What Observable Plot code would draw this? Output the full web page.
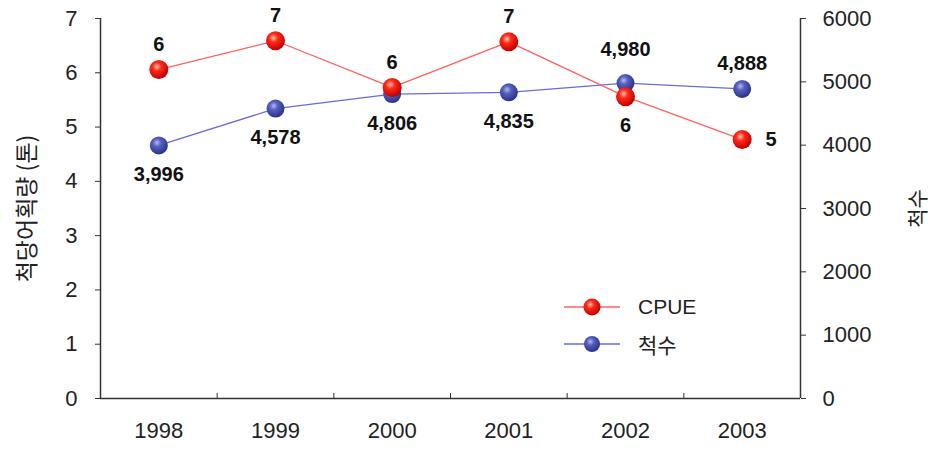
<!DOCTYPE html>
<html>
<head>
<meta charset="utf-8">
<script src="https://cdn.jsdelivr.net/npm/d3@7"></script>
<script src="https://cdn.jsdelivr.net/npm/@observablehq/plot@0.6"></script>
<style>
  body { margin: 0; background: #fff; }
  #wrap { position: relative; width: 931px; height: 449px; overflow: hidden; font-family: "Liberation Sans", Arial, "Noto Sans CJK KR", sans-serif; }
  #legend { position: absolute; left: 562px; top: 288px; font-size: 21px; color: #222; }
  #legend .row { display: flex; align-items: center; height: 37px; }
  #legend svg { margin-right: 16px; }
</style>
</head>
<body>
<div id="wrap"><div id="chart"></div>
<div id="legend">
  <div class="row"><svg width="60" height="24"><line x1="2" x2="58" y1="12" y2="12" stroke="#ff6060" stroke-width="1.3"/><circle cx="30" cy="12" r="8.5" fill="url(#gRedL)"/></svg><span>CPUE</span></div>
  <div class="row"><svg width="60" height="24"><line x1="2" x2="58" y1="12" y2="12" stroke="#6a6ae0" stroke-width="1.3"/><circle cx="30" cy="12" r="8" fill="url(#gBlueL)"/></svg><span style="font-family:'Noto Sans CJK KR'">척수</span></div>
</div>
</div>
<svg width="0" height="0" style="position:absolute">
  <defs>
    <radialGradient id="gRedL" cx="0.4" cy="0.35" r="0.65">
      <stop offset="0" stop-color="#ffc0a8"/><stop offset="0.35" stop-color="#ff2a1a"/><stop offset="1" stop-color="#c00000"/>
    </radialGradient>
    <radialGradient id="gBlueL" cx="0.4" cy="0.35" r="0.65">
      <stop offset="0" stop-color="#b8b8ee"/><stop offset="0.35" stop-color="#5560c0"/><stop offset="1" stop-color="#2a3288"/>
    </radialGradient>
  </defs>
</svg>
<script>
const years = [1998, 1999, 2000, 2001, 2002, 2003];
const cpue = [6.06, 6.59, 5.73, 6.57, 5.56, 4.77];
const vessels = [3996, 4578, 4806, 4835, 4980, 4888];
const leftTicks = [0, 1, 2, 3, 4, 5, 6, 7];
const rightTicks = [0, 1000, 2000, 3000, 4000, 5000, 6000];

const yMax = 7, y2Max = 6000;
const toY = v => v * yMax / y2Max;

const rows = years.map((year, i) => ({year, cpue: cpue[i], vessels: vessels[i], vy: toY(vessels[i]), i}));
const cpueLabel = d => String(Math.round(d.cpue));
const vesLabel = d => d3.format(",")(d.vessels);
const font = "Liberation Sans, Arial, sans-serif";
const lab = {fontSize: 20, fontWeight: "bold", fill: "#111"};

const chart = Plot.plot({
  width: 931,
  height: 449,
  marginLeft: 100,
  marginRight: 131,
  marginTop: 18,
  marginBottom: 51,
  style: {fontFamily: font, background: "#fff", color: "#222"},
  x: {domain: [1997.5, 2003.5]},
  y: {domain: [0, yMax]},
  marks: [
    Plot.ruleX([1997.5], {stroke: "#333", strokeWidth: 1.5}),
    Plot.ruleX([2003.5], {stroke: "#333", strokeWidth: 1.5}),
    Plot.ruleY([0], {stroke: "#333", strokeWidth: 1.5}),
    Plot.axisY({ticks: leftTicks, tickFormat: d => String(d), tickSize: 5, tickPadding: 18, fontSize: 22, stroke: "#333",
      label: "척당어획량 (톤)", labelAnchor: "center", labelOffset: 82, labelArrow: "none"}),
    Plot.axisY({anchor: "right", ticks: rightTicks.map(toY), tickFormat: d => String(Math.round(d * y2Max / yMax)),
      tickSize: 5, tickPadding: 17, fontSize: 22, stroke: "#333",
      label: "척수", labelAnchor: "center", labelOffset: 124, labelArrow: "none"}),
    Plot.axisX({ticks: years, tickSize: 0, tickPadding: 24, fontSize: 22, tickFormat: d => String(d), label: null}),
    Plot.axisX({ticks: years.slice(0, -1).map(y => y + 0.5), tickSize: -5, tickFormat: () => "", label: null, stroke: "#333"}),
    Plot.line(rows, {x: "year", y: "vy", stroke: "#6a6ae0", strokeWidth: 1.3}),
    Plot.line(rows, {x: "year", y: "cpue", stroke: "#ff6060", strokeWidth: 1.3}),
    Plot.dot(rows, {x: "year", y: "vy", r: 9, fill: "url(#gBlue)"}),
    Plot.dot(rows, {x: "year", y: "cpue", r: 9.5, fill: "url(#gRed)"}),
    // CPUE labels
    Plot.text(rows.filter(d => d.i <= 3), {x: "year", y: "cpue", text: cpueLabel, dy: -25, ...lab}),
    Plot.text(rows.filter(d => d.i === 4), {x: "year", y: "cpue", text: cpueLabel, dy: 29, ...lab}),
    Plot.text(rows.filter(d => d.i === 5), {x: "year", y: "cpue", text: cpueLabel, dx: 29, ...lab}),
    // vessel labels
    Plot.text(rows.filter(d => d.i <= 3), {x: "year", y: "vy", text: vesLabel, dy: 29, ...lab}),
    Plot.text(rows.filter(d => d.i === 4), {x: "year", y: "vy", text: vesLabel, dy: -34, ...lab}),
    Plot.text(rows.filter(d => d.i === 5), {x: "year", y: "vy", text: vesLabel, dy: -25, ...lab})
  ]
});

const defs = d3.select(chart).insert("defs", ":first-child");
function grad(id, c0, c1, c2) {
  const g = defs.append("radialGradient").attr("id", id).attr("cx", 0.4).attr("cy", 0.35).attr("r", 0.65);
  g.append("stop").attr("offset", 0).attr("stop-color", c0);
  g.append("stop").attr("offset", 0.35).attr("stop-color", c1);
  g.append("stop").attr("offset", 1).attr("stop-color", c2);
}
grad("gRed", "#ffc0a8", "#ff2a1a", "#c00000");
grad("gBlue", "#b8b8ee", "#5560c0", "#2a3288");
d3.select(chart).selectAll("[aria-label='y-axis label']").attr("font-family", "Noto Sans CJK KR").attr("font-size", 23);
d3.select(chart).selectAll("[aria-label='y-axis label']").filter((d, i) => i === 1).attr("font-size", 21);

document.getElementById("chart").appendChild(chart);
</script>
</body>
</html>
